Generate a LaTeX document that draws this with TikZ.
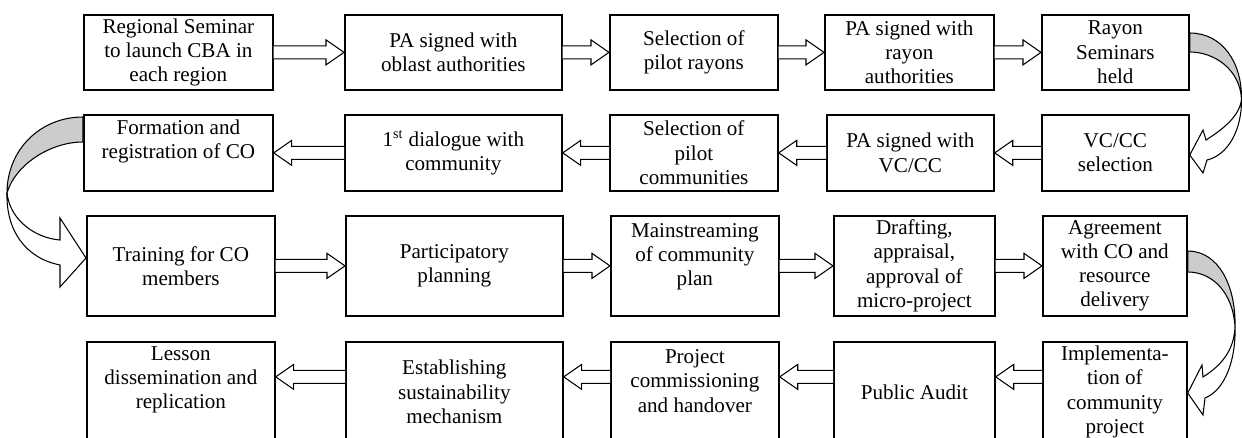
\documentclass[tikz,border=0pt]{standalone}
\usepackage{fontspec}
\setmainfont{Liberation Serif}
\usetikzlibrary{calc}
\definecolor{bandgray}{RGB}{204,204,204}

\begin{document}
\begin{tikzpicture}[
    x=0.02cm, y=-0.02cm,
    box/.style={rectangle,draw=black,line width=1pt,anchor=north west,
      inner sep=1pt, align=center, font=\fontsize{12}{13.8}\selectfont},
    lift/.style={text depth=#1},
    blk/.style={draw=black,line width=0.6pt,fill=white},
    rblk/.style={blk,to path={($(\tikztostart)+(0,6.5)$)
      -- ($(\tikztotarget |- \tikztostart)+(-18,6.5)$) -- ++(0,6)
      -- (\tikztotarget |- \tikztostart) -- ++(-18,-12.5) -- ++(0,6)
      -- ($(\tikztostart)+(0,-6.5)$)}},
    lblk/.style={blk,to path={($(\tikztostart)+(0,6.5)$)
      -- ($(\tikztotarget |- \tikztostart)+(18,6.5)$) -- ++(0,6)
      -- (\tikztotarget |- \tikztostart) -- ++(18,-12.5) -- ++(0,6)
      -- ($(\tikztostart)+(0,-6.5)$)}}]

  \useasboundingbox (0,0) rectangle (1242,437);

  % row 1
  \node[box,minimum width=3.78cm,minimum height=1.5cm] (regs) at (83,14) {Regional Seminar\\to launch CBA in\\each region};
  \node[box,minimum width=4.34cm,minimum height=1.5cm] (paob) at (344,14) {PA signed with\\oblast authorities};
  \node[box,minimum width=3.36cm,minimum height=1.5cm] (selr) at (609,14) {Selection of\\pilot rayons};
  \node[box,minimum width=3.38cm,minimum height=1.5cm] (parn) at (824,14) {PA signed with\\rayon\\authorities};
  \node[box,minimum width=2.94cm,minimum height=1.5cm] (rays) at (1041,14) {Rayon\\Seminars\\held};
  % row 2
  \node[box,minimum width=3.78cm,minimum height=1.52cm,lift=16pt] (form) at (83,114) {Formation and\\registration of CO};
  \node[box,minimum width=4.34cm,minimum height=1.52cm] (dial) at (344,114) {1\textsuperscript{st} dialogue with\\community};
  \node[box,minimum width=3.36cm,minimum height=1.52cm] (selc) at (609,114) {Selection of\\pilot\\communities};
  \node[box,minimum width=3.34cm,minimum height=1.52cm] (pavc) at (826,114) {PA signed with\\VC/CC};
  \node[box,minimum width=2.94cm,minimum height=1.52cm] (vccc) at (1041,114) {VC/CC\\selection};
  % row 3
  \node[box,minimum width=3.76cm,minimum height=2cm] (trai) at (86,215) {Training for CO\\members};
  \node[box,minimum width=4.34cm,minimum height=2cm] (part) at (345,215) {Participatory\\planning};
  \node[box,minimum width=3.36cm,minimum height=2cm,lift=13pt] (main) at (610,215) {Mainstreaming\\of community\\plan};
  \node[box,minimum width=3.22cm,minimum height=2cm] (draf) at (833,215) {Drafting,\\appraisal,\\approval of\\micro-project};
  \node[box,minimum width=2.88cm,minimum height=2cm] (agre) at (1042,215) {Agreement\\with CO and\\resource\\delivery};
  % row 4
  \node[box,minimum width=3.76cm,minimum height=2cm,lift=16pt] (less) at (86,341) {Lesson\\dissemination and\\replication};
  \node[box,minimum width=4.34cm,minimum height=2cm] (sust) at (345,341) {Establishing\\sustainability\\mechanism};
  \node[box,minimum width=3.36cm,minimum height=2cm,lift=12.5pt] (comm) at (610,341) {Project\\commissioning\\and handover};
  \node[box,minimum width=3.22cm,minimum height=2cm] (audi) at (833,341) {Public Audit};
  \node[box,minimum width=2.88cm,minimum height=2cm] (impl) at (1042,341) {Implementa-\\tion of\\community\\project};

  \path (regs.east) edge[rblk] (paob.west);
  \path (paob.east) edge[rblk] (selr.west);
  \path (selr.east) edge[rblk] (parn.west);
  \path (parn.east) edge[rblk] (rays.west);

  \path (vccc.west) edge[lblk] (pavc.east);
  \path (pavc.west) edge[lblk] (selc.east);
  \path (selc.west) edge[lblk] (dial.east);
  \path (dial.west) edge[lblk] (form.east);

  \path (trai.east) edge[rblk] (part.west);
  \path (part.east) edge[rblk] (main.west);
  \path (main.east) edge[rblk] (draf.west);
  \path (draf.east) edge[rblk] (agre.west);

  \path ([yshift=0.3cm]impl.west) edge[lblk] (audi.east);
  \path ([yshift=0.3cm]audi.west) edge[lblk] (comm.east);
  \path ([yshift=0.3cm]comm.west) edge[lblk] (sust.east);
  \path ([yshift=0.3cm]sust.west) edge[lblk] (less.east);

  % bent arrows between the rows
  \draw[blk] (1241.5,99) .. controls (1242,130) and (1228,155) .. (1207,160) -- (1203,173)
    -- (vccc.east |- 0,155) -- (1203,130) -- (1206,140) .. controls (1225,128) and (1240,115) .. (1241.5,99) -- cycle;
  \draw[blk,fill=bandgray] (rays.east |- 0,33) .. controls (1222,33) and (1242,62) .. (1241.5,99)
    .. controls (1240,70) and (1215,52) .. (rays.east |- 0,52) -- cycle;

  \draw[blk] (7,193) .. controls (10,220) and (35,238) .. (60,240) -- (60,218)
    -- (trai.west |- 0,258) -- (60,287) -- (60,265) .. controls (25,258) and (6,230) .. (7,193) -- cycle;
  \draw[blk,fill=bandgray] (form.west |- 0,117) .. controls (40,117) and (7,150) .. (7,193)
    .. controls (15,165) and (50,142) .. (form.west |- 0,142) -- cycle;

  \draw[blk] (1235,327) .. controls (1236,360) and (1225,390) .. (1205,398) -- (1203,415)
    -- (impl.east |- 0,393) -- (1202,365) -- (1203,377) .. controls (1222,365) and (1234,350) .. (1235,327) -- cycle;
  \draw[blk,fill=bandgray] (agre.east |- 0,251) .. controls (1218,251) and (1236,285) .. (1235,327)
    .. controls (1233,292) and (1212,272) .. (agre.east |- 0,272) -- cycle;

\end{tikzpicture}
\end{document}
